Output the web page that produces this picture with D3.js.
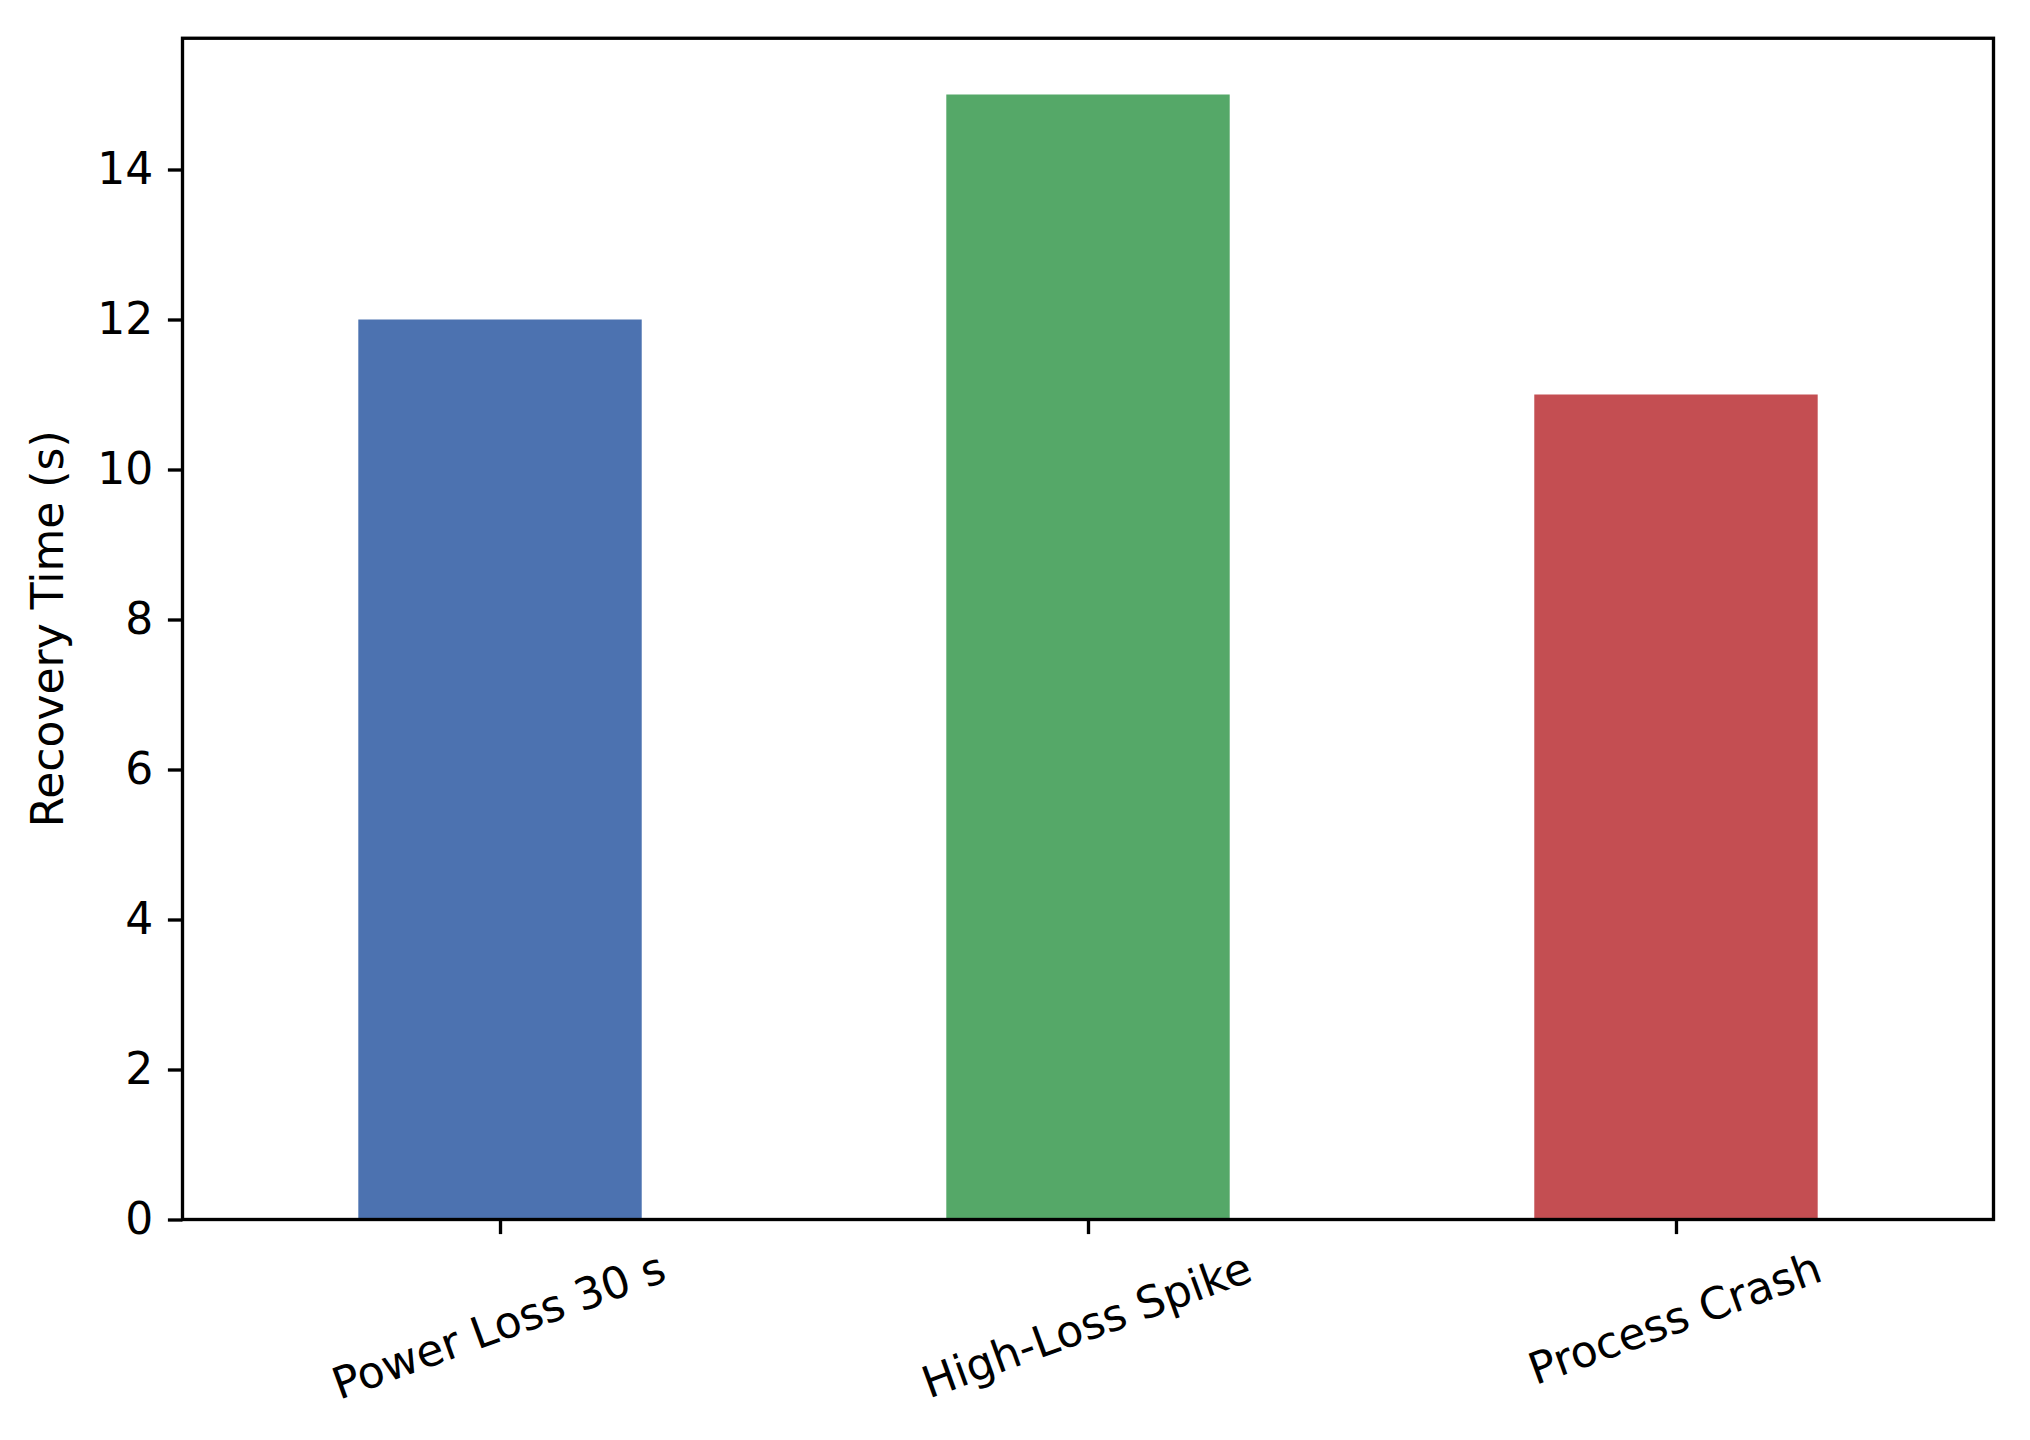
<!DOCTYPE html>
<html>
<head>
<meta charset="utf-8">
<script src="https://cdn.jsdelivr.net/npm/d3@7"></script>
<style>
  body { margin: 0; background: #fff; }
  svg { display: block; font-family: "DejaVu Sans", sans-serif; }
</style>
</head>
<body>
<svg></svg>
<script>
// data
var categories = ["Power Loss 30 s", "High-Loss Spike", "Process Crash"];
var recoveryTimes = [12, 15, 11];
var barColors = ["#4C72B0", "#55A868", "#C44E52"];
var yTicks = [0, 2, 4, 6, 8, 10, 12, 14];

var svgWidth = 2030, svgHeight = 1440;
// plot area (note: "top" would clash with window.top)
var plotLeft = 182.5, plotRight = 1993.5, plotTop = 38.25, plotBottom = 1219.5;
var fontSize = 44, tickLen = 14.6, tickPad = 14.6, lineW = 3.33;

var svg = d3.select("svg")
    .attr("width", svgWidth)
    .attr("height", svgHeight);

var xScale = d3.scalePoint()
    .domain(categories)
    .range([plotLeft, plotRight])
    .padding(0.54);

var yScale = d3.scaleLinear()
    .domain([0, d3.max(recoveryTimes) * 1.05])   // matplotlib 5% margin
    .range([plotBottom, plotTop]);

var barWidth = xScale.step() * 0.482;

// bars
svg.selectAll("rect.bar")
    .data(recoveryTimes)
    .enter()
    .append("rect")
    .attr("class", "bar")
    .attr("x", function(d, i) { return xScale(categories[i]) - barWidth / 2; })
    .attr("y", function(d) { return yScale(d); })
    .attr("width", barWidth)
    .attr("height", function(d) { return yScale(0) - yScale(d); })
    .attr("fill", function(d, i) { return barColors[i]; });

// y axis
var yAxis = svg.append("g")
    .attr("transform", "translate(" + plotLeft + ",0)")
    .call(d3.axisLeft(yScale)
        .tickValues(yTicks)
        .tickFormat(d3.format("d"))
        .tickSize(tickLen)
        .tickPadding(tickPad));
yAxis.select(".domain").remove();
yAxis.selectAll(".tick line").attr("stroke", "#000").attr("stroke-width", lineW);
yAxis.selectAll(".tick text")
    .attr("fill", "#000")
    .style("font-size", fontSize + "px")
    .style("font-family", "DejaVu Sans");

// x axis
var xAxis = svg.append("g")
    .attr("transform", "translate(0," + plotBottom + ")")
    .call(d3.axisBottom(xScale).tickSize(tickLen).tickFormat(""));
xAxis.select(".domain").remove();
xAxis.selectAll(".tick line").attr("stroke", "#000").attr("stroke-width", lineW);

// rotated x labels, bbox top aligned below tick like matplotlib
var rot = 20 * Math.PI / 180;
var labelTop = plotBottom + tickLen + tickPad;
var xLabels = svg.selectAll("text.xlab")
    .data(categories)
    .enter()
    .append("text")
    .attr("class", "xlab")
    .attr("text-anchor", "middle")
    .style("font-size", fontSize + "px")
    .attr("fill", "#000")
    .text(function(d) { return d; });

xLabels.each(function(d) {
    var w = this.getComputedTextLength();
    var h = fontSize * 1.0;
    var cy = labelTop + (w * Math.sin(rot) + h * Math.cos(rot)) / 2;
    d3.select(this)
        .attr("transform", "translate(" + xScale(d) + "," + cy + ") rotate(-20)")
        .attr("dy", (0.26 * fontSize) + "px");
});

// y label
svg.append("text")
    .attr("transform", "translate(63," + ((plotTop + plotBottom) / 2) + ") rotate(-90)")
    .attr("text-anchor", "middle")
    .style("font-size", fontSize + "px")
    .attr("fill", "#000")
    .text("Recovery Time (s)");

// frame
svg.append("rect")
    .attr("x", plotLeft)
    .attr("y", plotTop)
    .attr("width", plotRight - plotLeft)
    .attr("height", plotBottom - plotTop)
    .attr("fill", "none")
    .attr("stroke", "#000")
    .attr("stroke-width", lineW);
</script>
</body>
</html>
